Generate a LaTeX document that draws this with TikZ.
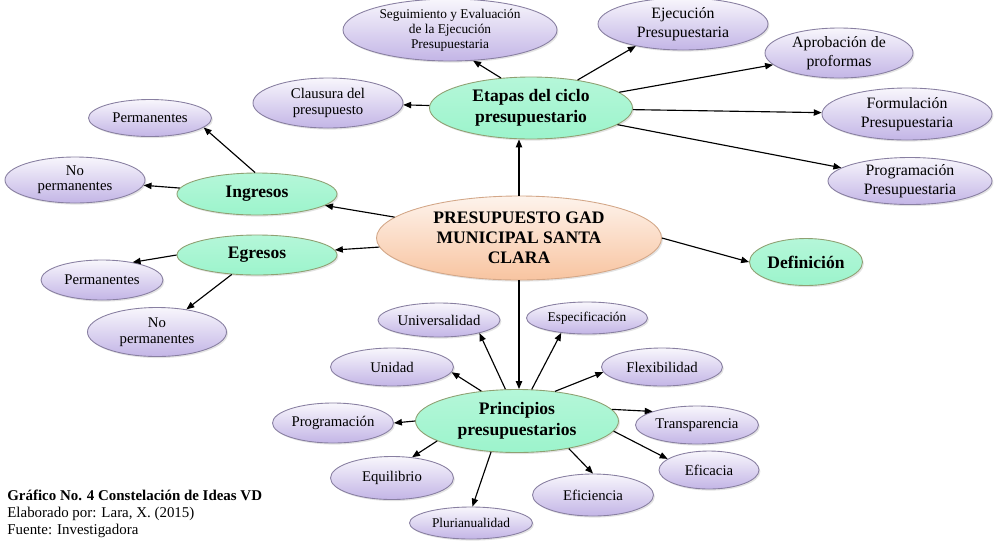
\documentclass[tikz,border=0pt]{standalone}
\usepackage{fontspec}
\setmainfont{Liberation Serif}
\usetikzlibrary{arrows.meta,shapes.geometric,shadows}
\definecolor{lila}{HTML}{C3B5E6}
\definecolor{menta}{HTML}{9CF4CC}
\definecolor{durazno}{HTML}{F8C4A0}

\begin{document}
\begin{tikzpicture}[x=0.02cm,y=-0.02cm,
  sz/.style 2 args={minimum width=#1*0.02cm,minimum height=#2*0.02cm},
  base/.style={ellipse,inner sep=0pt,align=center,line width=0.5pt,
    drop shadow={opacity=0.22,shadow xshift=0.8pt,shadow yshift=-0.9pt}},
  idea/.style={base,draw=lila!70!black,top color=lila!12,bottom color=lila},
  clave/.style={base,draw=olive!35!menta!80!black,top color=menta!75,bottom color=menta,
    font=\fontsize{10}{12}\selectfont\bfseries},
  centro/.style={base,draw=durazno!85!black,top color=durazno!20,bottom color=durazno,
    font=\fontsize{10}{11.3}\selectfont\bfseries},
  f7/.style={font=\fontsize{7.6}{8.5}\selectfont},
  f8/.style={font=\fontsize{8.4}{8.8}\selectfont},
  f9/.style={font=\fontsize{9}{10.6}\selectfont},
  arr/.style={-{Triangle[length=4.5pt,width=3.6pt]},line width=0.65pt}]
  \useasboundingbox (0,0) rectangle (1008,549);
  % etapas del ciclo
  \node[idea,sz={214}{62},f7] (seg) at (450,30) {Seguimiento y Evaluación\\de la Ejecución\\Presupuestaria};
  \node[idea,sz={170}{52},f9] (eje) at (683,24) {Ejecución\\Presupuestaria};
  \node[idea,sz={148}{50},f9] (apr) at (839,53) {Aprobación de\\proformas};
  \node[idea,sz={170}{52},f9] (for) at (907,114) {Formulación\\Presupuestaria};
  \node[idea,sz={164}{47},f9] (pro) at (910,181) {Programación\\Presupuestaria};
  \node[idea,sz={150}{50},f8] (cla) at (328,103) {Clausura del\\presupuesto};
  \node[clave,sz={203}{62}] (eta) at (531,108) {Etapas del ciclo\\presupuestario};
  % centro
  \node[centro,sz={285}{84}] (gad) at (519,238) {PRESUPUESTO GAD\\MUNICIPAL SANTA\\CLARA};
  \node[clave,sz={113}{47}] (def) at (806,262) {Definición};
  % ingresos y egresos
  \node[clave,sz={160}{42}] (ing) at (257,194) {Ingresos};
  \node[clave,sz={160}{40}] (egr) at (257,255) {Egresos};
  \node[idea,sz={123}{37},f8] (pe1) at (150,118) {Permanentes};
  \node[idea,sz={140}{46},f8] (np1) at (75,180) {No\\permanentes};
  \node[idea,sz={122}{40},f8] (pe2) at (102,280) {Permanentes};
  \node[idea,sz={139}{49},f8] (np2) at (157,332) {No\\permanentes};
  % principios
  \node[clave,sz={203}{63}] (pri) at (517,421) {Principios\\presupuestarios};
  \node[idea,sz={122}{34},f8] (uni) at (439,320) {Universalidad};
  \node[idea,sz={121}{32},f7] (esp) at (587,318) {Especificación};
  \node[idea,sz={123}{38},f8] (und) at (392,367) {Unidad};
  \node[idea,sz={121}{38},f8] (fle) at (662,367) {Flexibilidad};
  \node[idea,sz={121}{40},f8] (prg) at (333,423) {Programación};
  \node[idea,sz={123}{38},f8] (tra) at (697,425) {Transparencia};
  \node[idea,sz={123}{43},f8] (equ) at (392,478) {Equilibrio};
  \node[idea,sz={100}{38},f8] (efa) at (709,470) {Eficacia};
  \node[idea,sz={121}{42},f8] (efi) at (593,495) {Eficiencia};
  \node[idea,sz={123}{32},f7] (plu) at (471,523) {Plurianualidad};
  \node[anchor=north west,inner sep=0pt,align=left,font=\fontsize{8.5}{9.6}\selectfont] (nota) at (7,490)
    {\textbf{Gráfico No. 4 Constelación de Ideas VD}\\Elaborado por: Lara, X. (2015)\\Fuente: Investigadora};
  % flechas
  \draw[arr] (gad.north) -- (eta.south -| gad.north);
  \draw[arr] (gad.south) -- (pri.north -| gad.south);
  \draw[arr] (gad) -- (ing);
  \draw[arr] (gad) -- (egr);
  \draw[arr] (gad.east) -- (def.west);
  \draw[arr] (eta.135) -- (seg.-53);
  \draw[arr] (eta.31) -- (eje.205);
  \foreach \n in {apr,for,pro,cla} \draw[arr] (eta) -- (\n);
  \draw[arr] (ing.95) -- (pe1.-10);
  \draw[arr] (ing) -- (np1);
  \draw[arr] (egr.west) -- (pe2.30);
  \draw[arr] (egr) -- (np2);
  \foreach \a/\b in {110/uni.-18,65/esp.210,140/und.-5,38/fle.185,180/prg.east,7/tra.163,-6/efa.165,-28/efi.north,-130/plu.85,-166/equ.46}
    \draw[arr] (pri.\a) -- (\b);
\end{tikzpicture}
\end{document}
